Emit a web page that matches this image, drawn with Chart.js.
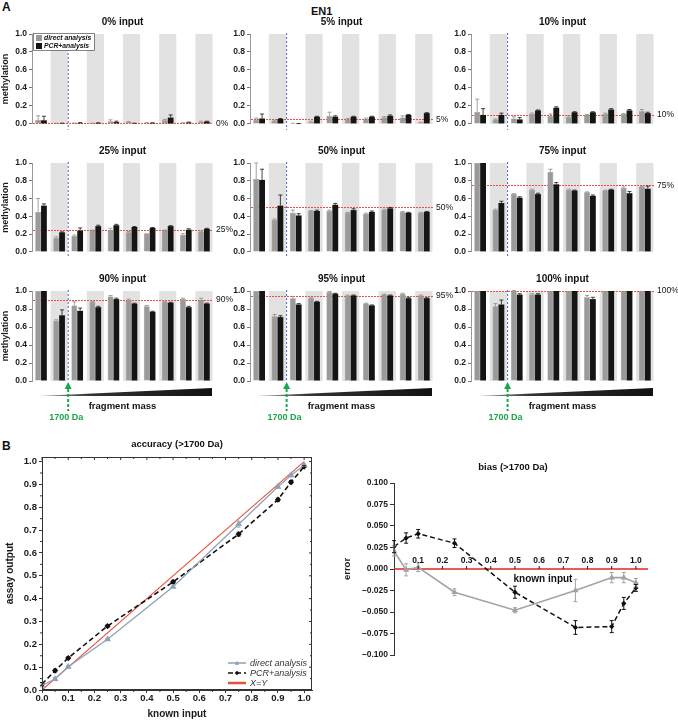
<!DOCTYPE html>
<html>
<head>
<meta charset="utf-8">
<script src="https://cdn.jsdelivr.net/npm/chart.js@4.4.0/dist/chart.umd.min.js"></script>
<style>
  body { margin:0; background:#fff; width:678px; height:720px; position:relative; overflow:hidden;
         font-family:'Liberation Sans', Arial, sans-serif; }
  canvas { position:absolute; }
  .lbl { position:absolute; font-weight:bold; color:#111; line-height:1; }
</style>
</head>
<body>
<div class="lbl" style="left:2px;top:1px;font-size:12px">A</div>
<div class="lbl" style="left:311px;top:6px;font-size:11px">EN1</div>
<div class="lbl" style="left:2px;top:440px;font-size:12px">B</div>
<script>
// ---- panel A data: methylation per fragment-mass group (rows = input level) ----
const FRAGMENTS = ['1','2','3','4','5','6','7','8','9','10'];
const INPUT_PCT = [0, 5, 10, 25, 50, 75, 90, 95, 100];

const directMean = [
  [0.045,0.005,0.005,0.005,0.03,0.02,0.01,0.04,0.01,0.025],
  [0.045,0.035,0.005,0.025,0.09,0.05,0.055,0.07,0.07,0.015],
  [0.135,0.05,0.06,0.11,0.09,0.08,0.10,0.11,0.11,0.14],
  [0.45,0.16,0.18,0.24,0.25,0.22,0.20,0.24,0.19,0.23],
  [0.82,0.36,0.44,0.46,0.46,0.44,0.43,0.47,0.45,0.44],
  [1.0,0.47,0.65,0.70,0.90,0.70,0.67,0.69,0.72,0.73],
  [1.0,0.67,0.84,0.88,0.94,0.90,0.83,0.88,0.91,0.90],
  [1.0,0.72,0.92,0.92,0.99,0.95,0.86,0.96,0.97,0.95],
  [1.0,0.83,1.0,0.96,1.0,1.0,0.93,1.0,1.0,1.0]
];
const pcrMean = [
  [0.04,0.005,0.01,0.01,0.02,0.005,0.01,0.07,0.015,0.025],
  [0.06,0.055,0.002,0.08,0.08,0.08,0.08,0.09,0.10,0.12],
  [0.10,0.10,0.05,0.15,0.18,0.13,0.13,0.16,0.15,0.12],
  [0.52,0.22,0.24,0.29,0.30,0.28,0.27,0.29,0.25,0.26],
  [0.81,0.52,0.41,0.46,0.53,0.47,0.45,0.49,0.44,0.45],
  [1.0,0.55,0.61,0.65,0.76,0.69,0.63,0.70,0.66,0.71],
  [1.0,0.73,0.78,0.82,0.91,0.86,0.77,0.87,0.82,0.86],
  [1.0,0.71,0.85,0.88,0.97,0.95,0.84,0.95,0.92,0.92],
  [1.0,0.85,0.96,0.96,1.0,1.0,0.91,1.0,1.0,1.0]
];
const directErr = [
  [0.045,0.003,0.005,0.003,0.015,0.005,0.005,0.01,0.003,0.005],
  [0.02,0.005,0.002,0.005,0.04,0.01,0.01,0.01,0.02,0.003],
  [0.14,0.005,0.02,0.01,0.02,0.01,0.005,0.01,0.005,0.02],
  [0.15,0.01,0.01,0.005,0.015,0.01,0.005,0.005,0.015,0.005],
  [0.18,0.01,0.03,0.005,0.01,0.005,0.005,0.01,0.005,0.005],
  [0,0.01,0.005,0.005,0.03,0.005,0.005,0.005,0.01,0.005],
  [0,0.01,0.04,0.005,0.01,0.01,0.01,0.005,0.01,0.02],
  [0,0.02,0.02,0.005,0.005,0.005,0.005,0.005,0.005,0.005],
  [0,0.03,0.005,0.01,0,0,0.02,0,0,0]
];
const pcrErr = [
  [0.045,0.003,0.005,0.003,0.01,0.003,0.003,0.03,0.005,0.005],
  [0.05,0.005,0.002,0.005,0.01,0.005,0.005,0.01,0.005,0.005],
  [0.07,0.02,0.02,0.005,0.01,0.005,0.005,0.01,0.01,0.01],
  [0.02,0.005,0.03,0.01,0.01,0.005,0.005,0.005,0.01,0.005],
  [0.12,0.12,0.02,0.01,0.015,0.015,0.01,0.01,0.005,0.005],
  [0,0.02,0.01,0.01,0.02,0.005,0.01,0.005,0.02,0.03],
  [0,0.06,0.03,0.01,0.01,0.005,0.005,0.005,0.01,0.005],
  [0,0.015,0.01,0.005,0.005,0.005,0.005,0.005,0.01,0.005],
  [0,0.05,0.01,0.01,0,0,0.02,0,0,0]
];

// ---- panel B data ----
const knownInput    = [0, 0.05, 0.1, 0.25, 0.5, 0.75, 0.9, 0.95, 1.0];
const directOutput  = [0.02, 0.048, 0.102, 0.222, 0.452, 0.726, 0.89, 0.94, 0.984];
const pcrOutput     = [0.026, 0.085, 0.14, 0.28, 0.473, 0.682, 0.833, 0.91, 0.978];
const directBias    = [0.021, -0.001, 0.002, -0.027, -0.048, -0.025, -0.010, -0.010, -0.016];
const pcrBias       = [0.026, 0.036, 0.041, 0.030, -0.027, -0.068, -0.067, -0.040, -0.022];
const directBiasErr = [0.006, 0.007, 0.005, 0.004, 0.003, 0.013, 0.006, 0.006, 0.005];
const pcrBiasErr    = [0.007, 0.006, 0.005, 0.005, 0.007, 0.008, 0.007, 0.007, 0.004];
const identityLine  = [0, 1];
const ACC_TICKS  = [0,0.1,0.2,0.3,0.4,0.5,0.6,0.7,0.8,0.9,1.0];
const BIAS_YTICKS = [-0.1,-0.075,-0.05,-0.025,0,0.025,0.05,0.075,0.1];
const BIAS_XTICKS = [0.1,0.2,0.3,0.4,0.5,0.6,0.7,0.8,0.9,1.0];

const FONT = "'Liberation Sans', Arial, sans-serif";
Chart.defaults.font.family = FONT;
Chart.defaults.color = '#1a1a1a';
Chart.defaults.animation = false;

// layout of the 3x3 grid (chart-area edges in page px)
const COLS = [{left:0, axis:32, right:213}, {left:222, axis:250, right:433}, {left:443, axis:471, right:654}];
const ROWS = [{top:34, bottom:125}, {top:163, bottom:253}, {top:291, bottom:381, mass:true}];

function makeCanvas(left, top, w, h) {
  const c = document.createElement('canvas');
  c.width = w; c.height = h;
  c.style.left = left + 'px'; c.style.top = top + 'px';
  c.style.width = w + 'px'; c.style.height = h + 'px';
  document.body.appendChild(c);
  return c;
}

const errorBars = {
  id: 'errorBars',
  afterDatasetsDraw(chart, args, o) {
    const {ctx} = chart, y = chart.scales.y;
    chart.data.datasets.forEach((ds, d) => {
      if (!ds.errors) return;
      const meta = chart.getDatasetMeta(d);
      ctx.save();
      ctx.strokeStyle = ds.errorColor || ds.borderColor;
      ctx.lineWidth = o.width || 0.8;
      const cw = o.cap || 2;
      meta.data.forEach((el, i) => {
        const e = ds.errors[i]; if (!e) return;
        const v = typeof ds.data[i] === 'object' ? ds.data[i].y : ds.data[i];
        const yt = y.getPixelForValue(v + e);
        const yb = o.upOnly ? el.y : y.getPixelForValue(v - e);
        ctx.beginPath();
        ctx.moveTo(el.x, yb); ctx.lineTo(el.x, yt);
        ctx.moveTo(el.x - cw, yt); ctx.lineTo(el.x + cw, yt);
        if (!o.upOnly) { ctx.moveTo(el.x - cw, yb); ctx.lineTo(el.x + cw, yb); }
        ctx.stroke();
      });
      ctx.restore();
    });
  }
};

const panelDeco = {
  id: 'panelDeco',
  beforeDatasetsDraw(chart, a, o) {
    const {ctx, chartArea: {left, right, top, bottom}, scales: {x, y}} = chart;
    const half = (x.getPixelForValue(1) - x.getPixelForValue(0)) / 2;
    ctx.save();
    ctx.fillStyle = '#e2e2e2';
    FRAGMENTS.forEach((f, i) => {
      if (i % 2 === 1) ctx.fillRect(x.getPixelForValue(i) - half + 0.5, top, half * 2 - 1, bottom - top);
    });
    // dotted input-level line, pixel aligned
    const ly = Math.min(Math.round(y.getPixelForValue(o.pct / 100)), Math.round(bottom) - 1);
    ctx.fillStyle = '#f0503c';
    for (let px = Math.round(left) + 1; px < right - 1; px += 3) ctx.fillRect(px, ly, 2, 1);
    ctx.restore();
  },
  afterDraw(chart, a, o) {
    const {ctx, chartArea: {left, right, top, bottom}, scales: {x, y}} = chart;
    const bx = (x.getPixelForValue(1) + x.getPixelForValue(2)) / 2;
    ctx.save();
    ctx.strokeStyle = '#4f5fd0'; ctx.lineWidth = 1; ctx.setLineDash([2, 2]);
    ctx.beginPath(); ctx.moveTo(bx, top - 1); ctx.lineTo(bx, bottom + (o.mass ? 0 : 6)); ctx.stroke();
    ctx.setLineDash([]);

    ctx.fillStyle = '#111'; ctx.textAlign = 'center'; ctx.textBaseline = 'middle';
    ctx.font = `bold 10px ${FONT}`;
    ctx.fillText(o.pct + '% input', (left + right) / 2, top - 12);
    ctx.font = `8.5px ${FONT}`; ctx.textAlign = 'left';
    ctx.fillText(o.pct + '%', right + 3, y.getPixelForValue(o.pct / 100));

    if (o.legend) {
      const lx = left + 1, ly = top - 1;
      ctx.fillStyle = '#fff'; ctx.fillRect(lx, ly, 61, 17);
      ctx.strokeStyle = '#555'; ctx.lineWidth = 0.7; ctx.strokeRect(lx + 0.5, ly + 0.5, 61, 17);
      chart.data.datasets.forEach((d, i) => {
        const yy = ly + 5 + i * 8;
        ctx.fillStyle = d.backgroundColor; ctx.fillRect(lx + 3, yy - 3, 6, 6);
        ctx.fillStyle = '#111'; ctx.font = `italic bold 6.8px ${FONT}`;
        ctx.fillText(d.label, lx + 11, yy);
      });
    }
    if (o.mass) {
      const g = ctx.createLinearGradient(left + 6, 0, right, 0);
      g.addColorStop(0, '#aaa'); g.addColorStop(0.3, '#333'); g.addColorStop(1, '#111');
      ctx.fillStyle = g;
      ctx.beginPath(); ctx.moveTo(left + 6, bottom + 15); ctx.lineTo(right - 1, bottom + 15);
      ctx.lineTo(right - 1, bottom + 7); ctx.closePath(); ctx.fill();
      ctx.fillStyle = '#111'; ctx.textAlign = 'center'; ctx.font = `bold 9.5px ${FONT}`;
      ctx.fillText('fragment mass', (left + right) / 2, bottom + 25);
      ctx.fillStyle = ctx.strokeStyle = '#1aa64b';
      ctx.beginPath(); ctx.moveTo(bx, bottom + 1); ctx.lineTo(bx - 3.5, bottom + 8); ctx.lineTo(bx + 3.5, bottom + 8);
      ctx.closePath(); ctx.fill();
      ctx.lineWidth = 2; ctx.setLineDash([3, 2]);
      ctx.beginPath(); ctx.moveTo(bx, bottom + 8); ctx.lineTo(bx, bottom + 30); ctx.stroke();
      ctx.setLineDash([]);
      ctx.font = `bold 9px ${FONT}`;
      ctx.fillText('1700 Da', bx - 2, bottom + 37);
    }
    ctx.restore();
  }
};

function barPanel(p) {
  const r = Math.floor(p / 3), c = p % 3;
  const col = COLS[c], row = ROWS[r];
  const padB = row.mass ? 46 : 6, padR = 26;
  const top = row.top - 22;
  const cvs = makeCanvas(col.left, top, col.right - col.left + padR, row.bottom - top + padB);
  new Chart(cvs, {
    type: 'bar',
    data: {
      labels: FRAGMENTS,
      datasets: [
        { label: 'direct analysis', data: directMean[p], errors: directErr[p],
          backgroundColor: '#9a9a9a', borderColor: '#7c7c7c', borderWidth: 0.5, errorColor: '#8a8a8a' },
        { label: 'PCR+analysis', data: pcrMean[p], errors: pcrErr[p],
          backgroundColor: '#151515', borderColor: '#151515', borderWidth: 0, errorColor: '#151515' }
      ]
    },
    options: {
      responsive: false, animation: false,
      layout: { padding: { top: 22, bottom: padB, left: 0, right: padR } },
      datasets: { bar: { categoryPercentage: 0.64, barPercentage: 1 } },
      plugins: {
        legend: { display: false }, tooltip: { enabled: false },
        errorBars: { upOnly: true, cap: 2, width: 0.8 },
        panelDeco: { pct: INPUT_PCT[p], legend: p === 0, mass: !!row.mass }
      },
      scales: {
        x: { display: false },
        y: {
          min: 0, max: 1,
          afterFit: s => { s.width = col.axis - col.left; },
          ticks: { stepSize: 0.2, callback: v => v.toFixed(1), font: { size: 8.5, weight: 'bold' }, color: '#1a1a1a', padding: 2 },
          grid: { drawOnChartArea: false, tickLength: 3, color: '#777' },
          border: { color: '#999' },
          title: { display: c === 0, text: 'methylation', font: { size: 9, weight: 'bold' }, padding: 0 }
        }
      }
    },
    plugins: [errorBars, panelDeco]
  });
}
INPUT_PCT.forEach((v, p) => barPanel(p));

// ---- B: accuracy ----
function drawMarker(ctx, style, x, y, r) {
  ctx.beginPath();
  if (style === 'triangle') { ctx.moveTo(x, y - r); ctx.lineTo(x - r, y + r * 0.8); ctx.lineTo(x + r, y + r * 0.8); }
  else { ctx.moveTo(x, y - r); ctx.lineTo(x + r, y); ctx.lineTo(x, y + r); ctx.lineTo(x - r, y); }
  ctx.closePath(); ctx.fill();
}

const accDeco = {
  id: 'accDeco',
  afterDraw(chart) {
    const {ctx, chartArea: {left, right, top, bottom}, scales: {x, y}} = chart;
    ctx.save();
    ctx.strokeStyle = '#333'; ctx.lineWidth = 1;
    ctx.strokeRect(left + 0.5, top + 0.5, right - left - 1, bottom - top - 1);
    ctx.beginPath();
    for (let k = 0; k <= 20; k++) {
      const v = k / 20, len = k % 2 ? 2 : 3;
      const px = x.getPixelForValue(v), py = y.getPixelForValue(v);
      ctx.moveTo(px, top); ctx.lineTo(px, top + len);
      ctx.moveTo(right, py); ctx.lineTo(right - len, py);
      if (k % 2) { ctx.moveTo(px, bottom); ctx.lineTo(px, bottom + 2); ctx.moveTo(left, py); ctx.lineTo(left - 2, py); }
    }
    ctx.stroke();
    ctx.fillStyle = '#111'; ctx.textAlign = 'center'; ctx.textBaseline = 'middle';
    ctx.font = `bold 9.5px ${FONT}`;
    ctx.fillText('accuracy (>1700 Da)', (left + right) / 2, top - 13);
    // legend
    const ds = chart.data.datasets;
    ds.forEach((d, i) => {
      const yy = bottom - 27 + i * 10;
      ctx.strokeStyle = d.borderColor; ctx.fillStyle = d.borderColor;
      ctx.lineWidth = i === 2 ? 2.5 : 1.5; ctx.setLineDash(d.borderDash || []);
      ctx.beginPath(); ctx.moveTo(228, yy); ctx.lineTo(246, yy); ctx.stroke(); ctx.setLineDash([]);
      if (d.pointRadius) drawMarker(ctx, d.pointStyle, 237, yy, 2.3);
      ctx.fillStyle = '#333'; ctx.textAlign = 'left'; ctx.font = `italic 9px ${FONT}`;
      ctx.fillText(d.label, 250, yy);
    });
    ctx.restore();
  }
};

new Chart(makeCanvas(0, 436, 322, 284), {
  type: 'line',
  data: {
    datasets: [
      { label: 'direct analysis', data: knownInput.map((k, i) => ({ x: k, y: directOutput[i] })),
        borderColor: '#8ea1b7', backgroundColor: '#8ea1b7', borderWidth: 1.3,
        pointStyle: 'triangle', pointRadius: 2.6, errors: directBiasErr },
      { label: 'PCR+analysis', data: knownInput.map((k, i) => ({ x: k, y: pcrOutput[i] })),
        borderColor: '#111', backgroundColor: '#111', borderWidth: 1.6, borderDash: [5, 3],
        pointStyle: 'rectRot', pointRadius: 2, errors: pcrBiasErr },
      { label: 'X=Y', data: identityLine.map(v => ({ x: v, y: v })),
        borderColor: '#ea4f3b', backgroundColor: '#ea4f3b', borderWidth: 1.1, pointRadius: 0 }
    ]
  },
  options: {
    responsive: false, animation: false,
    layout: { padding: { top: 21, right: 10, left: 0, bottom: 0 } },
    plugins: { legend: { display: false }, tooltip: { enabled: false }, errorBars: { cap: 2, width: 0.9 } },
    scales: {
      x: { type: 'linear', min: 0, max: 1.03,
        afterBuildTicks: s => { s.ticks = ACC_TICKS.map(v => ({ value: v })); },
        afterFit: s => { s.height = 30; },
        ticks: { callback: v => v.toFixed(1), font: { size: 9.5, weight: 'bold' }, color: '#1a1a1a', padding: 0, maxRotation: 0 },
        grid: { drawOnChartArea: false, tickLength: 3, color: '#333' },
        border: { color: '#333' },
        title: { display: true, text: 'known input', font: { size: 10, weight: 'bold' }, padding: 0 } },
      y: { min: 0, max: 1.02,
        afterBuildTicks: s => { s.ticks = ACC_TICKS.map(v => ({ value: v })); },
        afterFit: s => { s.width = 42; },
        ticks: { callback: v => v.toFixed(1), font: { size: 9.5, weight: 'bold' }, color: '#1a1a1a', padding: 2 },
        grid: { drawOnChartArea: false, tickLength: 3, color: '#333' },
        border: { color: '#333' },
        title: { display: true, text: 'assay output', font: { size: 10, weight: 'bold' }, padding: 4 } }
    }
  },
  plugins: [errorBars, accDeco]
});

// ---- B: bias ----
const biasDeco = {
  id: 'biasDeco',
  afterDraw(chart) {
    const {ctx, chartArea: {left, right, top}, scales: {x, y}} = chart;
    const y0 = y.getPixelForValue(0);
    ctx.save();
    ctx.fillStyle = '#111'; ctx.strokeStyle = '#222'; ctx.lineWidth = 1;
    ctx.textAlign = 'center'; ctx.textBaseline = 'middle';
    ctx.font = `bold 9.5px ${FONT}`;
    ctx.fillText('bias (>1700 Da)', (left + right) / 2 - 8, top - 16);
    ctx.font = `bold 8.5px ${FONT}`;
    ctx.beginPath();
    BIAS_XTICKS.forEach(v => {
      const px = x.getPixelForValue(v);
      ctx.moveTo(px, y0 - 3); ctx.lineTo(px, y0);
      ctx.fillText(v.toFixed(1), px, y0 - 8);
    });
    ctx.stroke();
    ctx.font = `bold 10px ${FONT}`;
    ctx.fillText('known input', (left + right) / 2 + 22, y0 + 10);
    // legend
    chart.data.datasets.slice(0, 2).forEach((d, i) => {
      const yy = top + 4 + i * 9;
      ctx.strokeStyle = d.borderColor; ctx.fillStyle = d.borderColor;
      ctx.lineWidth = 1.4; ctx.setLineDash(d.borderDash || []);
      ctx.beginPath(); ctx.moveTo(570, yy); ctx.lineTo(584, yy); ctx.stroke(); ctx.setLineDash([]);
      drawMarker(ctx, d.pointStyle, 577, yy, 2);
      ctx.fillStyle = i ? '#222' : '#777'; ctx.textAlign = 'left'; ctx.font = `italic 8.5px ${FONT}`;
      ctx.fillText(d.label, 587, yy);
    });
    ctx.restore();
  }
};

new Chart(makeCanvas(340, 436, 338, 229), {
  type: 'line',
  data: {
    datasets: [
      { label: 'direct analysis', data: knownInput.map((k, i) => ({ x: k, y: directBias[i] })),
        borderColor: '#a3a3a3', backgroundColor: '#a3a3a3', borderWidth: 1.6,
        pointStyle: 'triangle', pointRadius: 2, errors: directBiasErr },
      { label: 'PCR+analysis', data: knownInput.map((k, i) => ({ x: k, y: pcrBias[i] })),
        borderColor: '#111', backgroundColor: '#111', borderWidth: 1.5, borderDash: [5, 3],
        pointStyle: 'rectRot', pointRadius: 1.6, errors: pcrBiasErr },
      { label: 'zero', data: [{ x: 0, y: 0 }, { x: 1.05, y: 0 }],
        borderColor: '#e0261e', borderWidth: 1.3, pointRadius: 0 }
    ]
  },
  options: {
    responsive: false, animation: false,
    layout: { padding: { top: 47, right: 30, left: 0, bottom: 10 } },
    plugins: { legend: { display: false }, tooltip: { enabled: false }, errorBars: { cap: 2, width: 1 } },
    scales: {
      x: { type: 'linear', min: 0, max: 1.05, display: false },
      y: { min: -0.1, max: 0.1,
        afterBuildTicks: s => { s.ticks = BIAS_YTICKS.map(v => ({ value: v })); },
        afterFit: s => { s.width = 54; },
        ticks: { callback: v => (v < -1e-9 ? '\u2013' : '') + Math.abs(v).toFixed(3), font: { size: 8.5, weight: 'bold' }, color: '#1a1a1a', padding: 2 },
        grid: { drawOnChartArea: false, tickLength: 4, color: '#333' },
        border: { color: '#333' },
        title: { display: true, text: 'error', font: { size: 9.5, weight: 'bold' }, padding: 2 } }
    }
  },
  plugins: [errorBars, biasDeco]
});
</script>
</body>
</html>
